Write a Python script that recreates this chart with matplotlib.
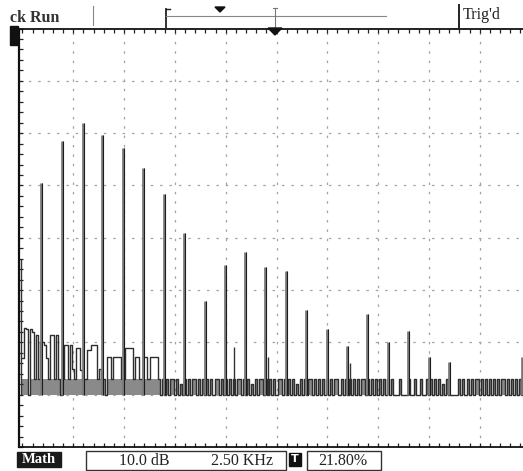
import numpy as np
import matplotlib
matplotlib.use("Agg")
import matplotlib.pyplot as plt
from matplotlib.patches import Rectangle, Polygon

# ---------------- data ----------------
bin_width_khz = 0.1
floor_db = -70
noise_band_top_db = -67
x_div_khz = 2.5
y_div_db = 10

# noise trace, one value per 0.1 kHz bin starting at 0 kHz
noise_levels_db = [
    -63, -57.3, -57.5, -70, -57.5, -58, -67, -58.6, -67, -60,
    -60, -60.5, -63, -67, -58.6, -58.6, -67, -58.6, -67, -70,
    -67, -60.5, -60.5, -67, -60.5, -65, -67, -61.1, -61.1, -65.3,
    -67, -67, -61.5, -61.5, -60.5, -60.5, -60.5, -67, -65, -67,
    -67, -70, -62.8, -62.8, -67, -62.8, -62.8, -62.8, -62.8, -67,
    -67, -61.1, -61.1, -61.1, -61.1, -67, -62.8, -62.8, -67, -67,
    -62.8, -62.8, -67, -62.8, -62.8, -62.8, -62.8, -67, -70, -67,
    -70, -67, -70, -67, -67, -70, -67, -70, -68, -70,
    -67, -70, -67, -70, -67, -67, -70, -67, -70, -67,
    -70, -67, -70, -67, -70, -67, -67, -70, -67, -70,
    -67, -70, -67, -70, -67, -70, -67, -67, -70, -67,
    -70, -67, -70, -68, -70, -67, -70, -67, -67, -70,
    -67, -70, -67, -70, -67, -70, -67, -67, -70, -67,
    -70, -67, -70, -67, -70, -68, -70, -67, -70, -67,
    -70, -67, -67, -70, -67, -70, -67, -70, -67, -70,
    -67, -70, -67, -70, -67, -67, -70, -67, -70, -67,
    -70, -67, -70, -67, -70, -67, -70, -67, -67, -70,
    -67, -70, -67, -70, -67, -70, -67, -70, -67, -70,
    -67, -70, -67, -70, -70, -70, -67, -70, -70, -70,
    -67, -70, -70, -67, -70, -70, -67, -70, -70, -67,
    -70, -67, -70, -67, -70, -67, -70, -68, -70, -67,
    -70, -70, -70, -70, -70, -67, -70, -67, -70, -67,
    -70, -67, -70, -67, -67, -70, -67, -70, -67, -70,
    -67, -70, -67, -70, -67, -70, -67, -67, -70, -67,
    -70, -67, -70, -67, -70, -67, -70, -67, -70,
]

# harmonic peaks
peak_freqs_khz = [0.92, 1.94, 2.98, 3.91, 4.95, 5.93, 6.96, 7.95, 8.98, 9.96,
                  10.95, 11.93, 12.97, 13.95, 14.99, 15.97, 16.95, 17.99, 18.97,
                  20.00, 20.99, 24.58]
peak_levels_db = [-29.5, -21.5, -18.1, -20.4, -22.8, -26.7, -31.6, -39.1, -52.1, -45.2,
                  -42.7, -45.6, -46.4, -53.8, -57.5, -60.7, -54.6, -59.9, -57.8,
                  -62.8, -63.8, -62.8]

# smaller spurs
spur_freqs_khz = [-0.08, 10.41, 12.08, 16.12]
spur_levels_db = [-44.0, -60.9, -62.8, -64.0]

header_left = "ck Run"
header_right = "Trig'd"
math_label = "Math"
scale_text = "10.0 dB"
freq_text = "2.50 KHz"
trig_pct = "21.80%"
trig_letter = "T"

# ---------------- figure ----------------
W, H = 523, 471
fig = plt.figure(figsize=(W / 100, H / 100), dpi=100)
fig.patch.set_facecolor("white")

left_px, top_px, bottom_px = 19, 28.5, 447
ax = fig.add_axes([left_px / W, 1 - bottom_px / H, (W - left_px) / W, (bottom_px - top_px) / H])
ax.set_xlim(-0.172, 24.63)
ax.set_ylim(-80, 0)

# graticule
grid_style = dict(color="#a3a3a3", lw=0.9, ls=(0, (2, 5.5)), zorder=0)
for xv in np.arange(x_div_khz, 24.6, x_div_khz):
    ax.axvline(xv, **grid_style)
for yv in np.arange(-80 + y_div_db, 0, y_div_db):
    ax.axhline(yv, **grid_style)

# trace
freqs = np.arange(len(noise_levels_db)) * bin_width_khz
levels = np.array(noise_levels_db)
ax.fill_between(freqs, floor_db, np.minimum(levels, noise_band_top_db), step="mid",
                color="#8a8a8a", lw=0, zorder=1)
ax.plot(freqs, levels, drawstyle="steps-mid", color="#2e2e2e", lw=1.0, zorder=2)
ax.vlines(peak_freqs_khz, floor_db, peak_levels_db, color="#7c7c7c", lw=2.0, zorder=3)
ax.vlines(np.array(peak_freqs_khz) + 0.03, floor_db, peak_levels_db, color="#1c1c1c", lw=0.8, zorder=4)
ax.vlines(spur_freqs_khz, floor_db, spur_levels_db, color="#333333", lw=1.0, zorder=3)

# frame and ticks
ax.set_xticks(np.arange(0, 24.7, 0.5))
ax.set_yticks(np.arange(-80, 0.1, 2))
ax.tick_params(axis="x", direction="in", top=True, bottom=True, length=3.2, width=0.9,
               labelbottom=False, labeltop=False, color="#222")
ax.tick_params(axis="y", direction="in", left=True, right=False, length=3.2, width=0.9,
               labelleft=False, color="#222")
ax.spines["right"].set_visible(False)
ax.spines["left"].set_linewidth(1.6)
ax.spines["top"].set_linewidth(1.3)
ax.spines["bottom"].set_linewidth(1.3)
for s in ax.spines.values():
    s.set_color("#111")

# ---------------- overlay for screen decorations (pixel coords) ----------------
ov = fig.add_axes([0, 0, 1, 1])
ov.set_xlim(0, W)
ov.set_ylim(H, 0)
ov.axis("off")
ov.patch.set_alpha(0)

serif = "Liberation Serif"
txt = dict(family=serif, color="#222", fontsize=11.5, va="center")

ov.text(10, 17.5, header_left, ha="left", family=serif, color="#333", fontsize=11.5,
        va="center", weight="bold")
ov.plot([93, 93], [6, 25], color="#888", lw=0.8)
ov.plot([166, 166], [9, 28], color="#222", lw=1.3)
ov.plot([166, 170], [9, 9], color="#222", lw=1.0)
ov.plot([166, 386], [15.5, 15.5], color="#888", lw=0.8)
ov.add_patch(Polygon([[215, 7], [225, 7], [220, 12]], closed=True, color="#111"))
ov.plot([275, 275], [8, 28], color="#777", lw=0.8)
ov.plot([273, 277], [8, 8], color="#777", lw=0.8)
ov.add_patch(Polygon([[268, 28], [282, 28], [275, 35]], closed=True, color="#111", zorder=5))
ov.plot([459, 459], [5, 28], color="#222", lw=1.4)
ov.text(463, 15, header_right, ha="left", **txt)
ov.add_patch(Rectangle((10, 26), 8, 19, color="#111"))

ov.add_patch(Rectangle((17, 452), 44, 15, color="#1a1a1a"))
ov.text(39, 459.5, math_label, ha="center", family=serif, color="white",
        fontsize=10.5, weight="bold", va="center")
ov.add_patch(Rectangle((86, 451), 200, 19, fill=False, ec="#333", lw=1.0))
ov.text(144, 461, scale_text, ha="center", **txt)
ov.text(242, 461, freq_text, ha="center", **txt)
ov.add_patch(Rectangle((289, 453), 12, 13, color="#111"))
ov.text(295, 459.5, trig_letter, ha="center", family="DejaVu Sans", color="white",
        fontsize=8, weight="bold", va="center")
ov.add_patch(Rectangle((307, 451), 74, 19, fill=False, ec="#333", lw=1.0))
ov.text(343, 461, trig_pct, ha="center", **txt)

fig.savefig("out.png", dpi=100, facecolor="white")
